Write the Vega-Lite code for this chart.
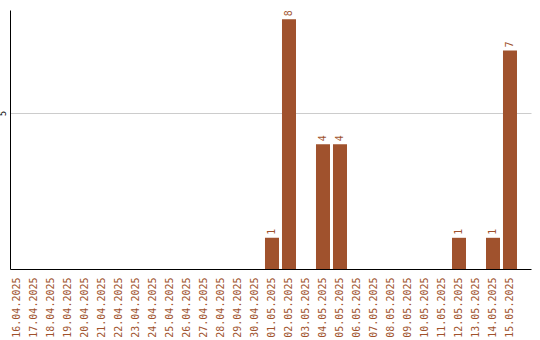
{
  "$schema": "https://vega.github.io/schema/vega-lite/v6.json",
  "autosize": "none",
  "padding": {"left": 10, "top": 10, "right": 9, "bottom": 71},
  "width": 521,
  "height": 259,
  "background": "white",
  "config": {"view": {"stroke": null}},
  "data": {
    "values": [
      {"date": "16.04.2025", "count": 0},
      {"date": "17.04.2025", "count": 0},
      {"date": "18.04.2025", "count": 0},
      {"date": "19.04.2025", "count": 0},
      {"date": "20.04.2025", "count": 0},
      {"date": "21.04.2025", "count": 0},
      {"date": "22.04.2025", "count": 0},
      {"date": "23.04.2025", "count": 0},
      {"date": "24.04.2025", "count": 0},
      {"date": "25.04.2025", "count": 0},
      {"date": "26.04.2025", "count": 0},
      {"date": "27.04.2025", "count": 0},
      {"date": "28.04.2025", "count": 0},
      {"date": "29.04.2025", "count": 0},
      {"date": "30.04.2025", "count": 0},
      {"date": "01.05.2025", "count": 1},
      {"date": "02.05.2025", "count": 8},
      {"date": "03.05.2025", "count": 0},
      {"date": "04.05.2025", "count": 4},
      {"date": "05.05.2025", "count": 4},
      {"date": "06.05.2025", "count": 0},
      {"date": "07.05.2025", "count": 0},
      {"date": "08.05.2025", "count": 0},
      {"date": "09.05.2025", "count": 0},
      {"date": "10.05.2025", "count": 0},
      {"date": "11.05.2025", "count": 0},
      {"date": "12.05.2025", "count": 1},
      {"date": "13.05.2025", "count": 0},
      {"date": "14.05.2025", "count": 1},
      {"date": "15.05.2025", "count": 7}
    ]
  },
  "encoding": {
    "x": {
      "field": "date",
      "type": "nominal",
      "sort": null,
      "scale": {"paddingInner": 0.176, "paddingOuter": 0.412, "align": 0},
      "axis": {
        "title": null,
        "labelAngle": -90,
        "labelFont": "DejaVu Sans Mono",
        "labelFontSize": 10,
        "labelColor": "#a0522d",
        "labelPadding": 8,
        "labelOverlap": false,
        "ticks": false,
        "grid": false,
        "domainColor": "#000000",
        "domainWidth": 1
      }
    },
    "y": {
      "field": "count",
      "type": "quantitative",
      "scale": {"domain": [0, 8.3], "nice": false, "zero": true},
      "axis": {
        "title": null,
        "values": [5],
        "labelAngle": -90,
        "labelFont": "DejaVu Sans",
        "labelFontSize": 8,
        "labelColor": "#000000",
        "labelPadding": 3,
        "ticks": false,
        "grid": true,
        "gridColor": "#cccccc",
        "domainColor": "#000000",
        "domainWidth": 1
      }
    }
  },
  "layer": [
    {"mark": {"type": "bar", "color": "#a0522d"}},
    {
      "transform": [{"filter": "datum.count > 0"}],
      "mark": {
        "type": "text",
        "angle": -90,
        "align": "left",
        "baseline": "middle",
        "dx": 3,
        "font": "DejaVu Sans Mono",
        "fontSize": 10,
        "color": "#a0522d"
      },
      "encoding": {"text": {"field": "count", "type": "quantitative"}}
    }
  ]
}
